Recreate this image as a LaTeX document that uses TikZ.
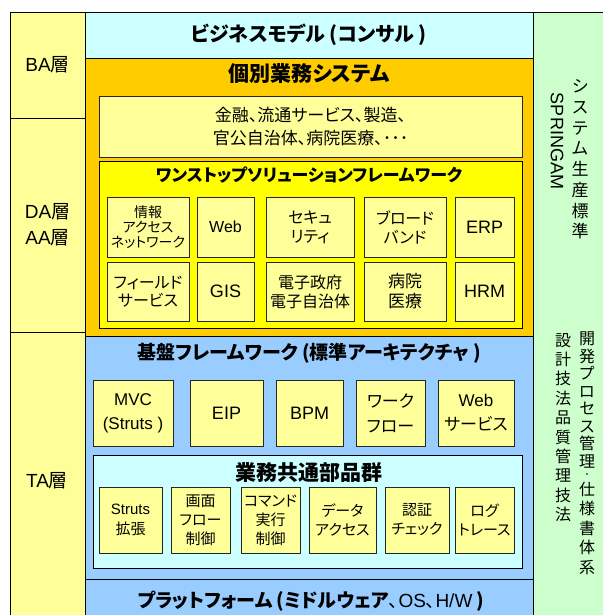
\documentclass[tikz,border=0pt]{standalone}
\usepackage{fontspec}
\setmainfont{Noto Sans CJK JP}[RawFeature={+palt}]
\newfontfamily\lat{Liberation Sans}
\definecolor{cyanL}{HTML}{CCFFFF}
\definecolor{orng}{HTML}{FFCC00}
\definecolor{lyel}{HTML}{FFFF99}
\definecolor{yel}{HTML}{FFFF00}
\definecolor{blu}{HTML}{99CCFF}
\definecolor{grn}{HTML}{CCFFCC}
\newcommand{\fs}[2]{\fontsize{#1}{#2}\selectfont}
\newcommand{\lt}[1]{{\lat #1}}
\tikzset{
  boxat/.style 2 args={anchor=north west, minimum width=#1pt, minimum height=#2pt, inner sep=0pt, outer sep=0pt},
  band/.style={draw=black, line width=0.7pt},
  bx/.style={draw=black!85, line width=0.7pt, fill=lyel, align=center},
  ttl/.style={font=\bfseries\fs{20}{22}, inner sep=0pt},
  vtxt/.style={align=center, inner sep=0pt},
}
\begin{document}
\begin{tikzpicture}[x=1pt,y=-1pt]
\fill[white] (0,0) rectangle (602,615);
\useasboundingbox (0,0) rectangle (602,615);
% left column
\node[band, fill=lyel, boxat={75}{106}, font=\fs{19}{26}] (ba) at (10,12) {\lt{BA}層};
\node[band, fill=lyel, boxat={75}{214}, font=\fs{19}{26}, align=center] (da) at (10,118) {\lt{DA}層\\\lt{AA}層};
\node[band, fill=lyel, boxat={75}{290}] (ta) at (10,332) {};
\node[font=\fs{19}{26}, inner sep=0pt] (talbl) at (47,481) {\lt{TA}層};
% right column
\node[band, fill=grn, boxat={75}{610}] (rc) at (533,12) {};
% business model
\node[band, fill=cyanL, boxat={448}{46}, font=\bfseries\fs{20}{22}] (bm) at (85,12) {ビジネスモデル (コンサル )};
% orange band
\node[band, fill=orng, boxat={448}{278}] (kb) at (85,58) {};
\node[ttl, font=\bfseries\fs{21}{22}] (kbt) at (309,74) {個別業務システム};
\node[bx, boxat={423}{61}, font=\fs{17}{23}] (kin) at (99,96) {金融、流通サービス、製造、\\官公自治体、病院医療、･･･};
\node[band, fill=yel, boxat={423}{167}] (os) at (99,161) {};
\node[ttl, font=\bfseries\fs{17}{20}] (ost) at (309,175) {ワンストップソリューションフレームワーク};
% row 1
\node[bx, boxat={82}{60}, font=\fs{14}{15}] (b1) at (107,197) {情報\\アクセス\\ネットワーク};
\node[bx, boxat={57}{60}, font=\fs{16}{19}] (b2) at (197,197) {\lt{Web}};
\node[bx, boxat={88}{60}, font=\fs{16}{19}] (b3) at (266,197) {セキュ\\リティ};
\node[bx, boxat={82}{60}, font=\fs{16}{19}] (b4) at (364,197) {ブロード\\バンド};
\node[bx, boxat={59}{60}, font=\fs{18}{20}] (b5) at (455,197) {\lt{ERP}};
% row 2
\node[bx, boxat={82}{59}, font=\fs{16}{18}] (c1) at (107,262) {フィールド\\サービス};
\node[bx, boxat={57}{59}, font=\fs{18}{20}] (c2) at (197,262) {\lt{GIS}};
\node[bx, boxat={88}{59}, font=\fs{16}{19}] (c3) at (266,262) {電子政府\\電子自治体};
\node[bx, boxat={82}{59}, font=\fs{17}{20}] (c4) at (364,262) {病院\\医療};
\node[bx, boxat={59}{59}, font=\fs{18}{20}] (c5) at (455,262) {\lt{HRM}};
% blue band
\node[band, fill=blu, boxat={448}{243}] (kf) at (85,336) {};
\node[ttl, font=\bfseries\fs{19}{22}] (kft) at (309,353) {基盤フレームワーク (標準アーキテクチャ )};
\node[bx, boxat={80}{66}, font=\fs{17}{24}] (d1) at (93,380) {\lt{MVC}\\\lt{(Struts )}};
\node[bx, boxat={73}{66}, font=\fs{18}{20}] (d2) at (190,380) {\lt{EIP}};
\node[bx, boxat={67}{66}, font=\fs{18}{20}] (d3) at (276,380) {\lt{BPM}};
\node[bx, boxat={69}{66}, font=\fs{17}{25}] (d4) at (356,380) {ワーク\\フロー};
\node[bx, boxat={76}{66}, font=\fs{17}{24}] (d5) at (438,380) {\lt{Web}\\サービス};
% common parts
\node[band, fill=cyanL, boxat={429}{113}] (cp) at (93,455) {};
\node[ttl, font=\bfseries\fs{21}{22}] (cpt) at (309,473) {業務共通部品群};
\node[bx, boxat={63}{66}, font=\fs{15}{20}] (e1) at (99,487) {\lt{Struts}\\拡張};
\node[bx, boxat={59}{66}, font=\fs{15}{19}] (e2) at (171,487) {画面\\フロー\\制御};
\node[bx, boxat={59}{66}, font=\fs{15}{19}] (e3) at (241,487) {コマンド\\実行\\制御};
\node[bx, boxat={67}{66}, font=\fs{15}{19}] (e4) at (309,487) {データ\\アクセス};
\node[bx, boxat={64}{66}, font=\fs{15}{19}] (e5) at (385,487) {認証\\チェック};
\node[bx, boxat={59}{66}, font=\fs{15}{19}] (e6) at (455,487) {ログ\\トレース};
% platform
\node[band, fill=blu, boxat={448}{42}] (pf) at (85,579) {};
\node[inner sep=0pt, font=\fs{19}{22}] (pft) at (311,601) {\bfseries プラットフォーム (ミドルウェア\mdseries 、\lt{OS}、\lt{H/W} \bfseries )};
% vertical texts
\node[vtxt, font=\fs{17}{20.7}] (v1) at (580,159.5) {シ\\ス\\テ\\ム\\生\\産\\標\\準};
\node[rotate=-90, inner sep=0pt, font=\fs{18}{20}] (spr) at (557,141) {\lt{SPRINGAM}};
\node[vtxt, font=\fs{16}{17.5}] (v2a) at (587,400) {開\\発\\プ\\ロ\\セ\\ス\\管\\理};
\node[vtxt, font=\fs{8}{8}] (v2dot) at (587,475.5) {・};
\node[vtxt, font=\fs{16}{19.5}] (v2b) at (587,528) {仕\\様\\書\\体\\系};
\node[vtxt, font=\fs{16}{19.4}] (v3) at (563,427.5) {設\\計\\技\\法\\品\\質\\管\\理\\技\\法};
\end{tikzpicture}
\end{document}
